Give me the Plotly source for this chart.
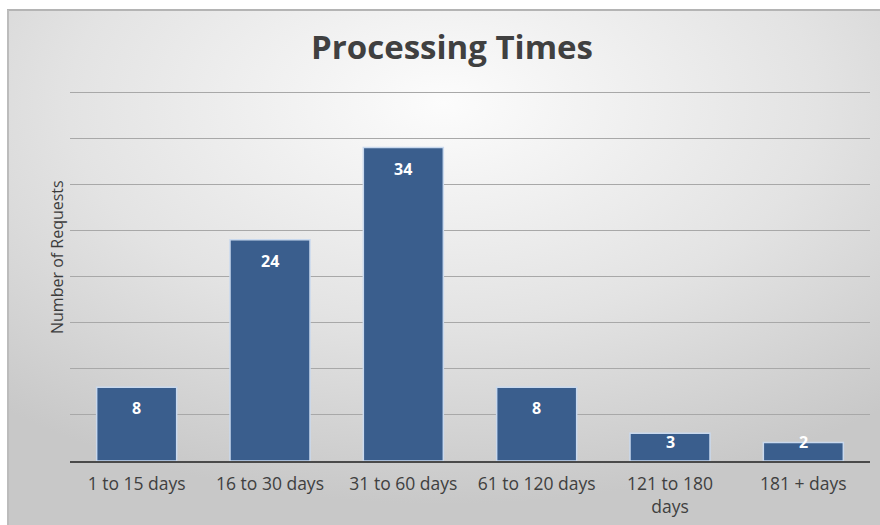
import plotly.graph_objects as go
import urllib.parse

categories = ["1 to 15 days", "16 to 30 days", "31 to 60 days", "61 to 120 days", "121 to 180<br>days", "181 + days"]
requests = [8, 24, 34, 8, 3, 2]

W, H = 880, 525
L, R, T, B = 70, 10, 83, 64
pw, ph = W - L - R, H - T - B
YMAX = 41
ppu = ph / YMAX

fig = go.Figure()
fig.add_trace(go.Bar(
    x=categories, y=requests,
    marker=dict(color="#3a5e8d", line=dict(color="#c9d9ee", width=1.5)),
    textposition="none",
))

for c, v in zip(categories, requests):
    h = v * ppu
    fig.add_annotation(x=c, y=v, xref="x", yref="y", text=f"<b>{v}</b>", showarrow=False,
                       yshift=-min(21, h - 18.5), yanchor="middle",
                       font=dict(family="Open Sans, sans-serif", size=16, color="white"))

svg = ('<svg xmlns="http://www.w3.org/2000/svg" width="873" height="515" preserveAspectRatio="none">'
       '<defs><radialGradient id="g" cx="50%" cy="18%" r="78%">'
       '<stop offset="0%" stop-color="#fcfcfc"/><stop offset="55%" stop-color="#e3e3e3"/>'
       '<stop offset="100%" stop-color="#c8c8c8"/></radialGradient></defs>'
       '<rect width="873" height="515" fill="url(#g)"/></svg>')
src = "data:image/svg+xml;charset=utf-8," + urllib.parse.quote(svg)

def px(xp):
    return (xp - L) / pw

def py(yp):
    return (H - B - yp) / ph

fig.add_layout_image(dict(
    source=src, xref="paper", yref="paper",
    x=px(7), y=py(10), sizex=873 / pw, sizey=515 / ph,
    sizing="stretch", xanchor="left", yanchor="top", layer="below",
))
fig.add_shape(type="line", xref="paper", yref="paper",
              x0=px(7), x1=px(880), y0=py(10), y1=py(10),
              line=dict(color="#b4b4b4", width=2), layer="above")
fig.add_shape(type="line", xref="paper", yref="paper",
              x0=px(8), x1=px(8), y0=py(10), y1=py(525),
              line=dict(color="#bcbcbc", width=2), layer="above")

fig.add_annotation(xref="paper", yref="paper", x=px(57), y=py(257), text="Number of Requests",
                   textangle=-90, showarrow=False, xanchor="center", yanchor="middle",
                   font=dict(family="Open Sans, sans-serif", size=16, color="#3c3c3c"))

fig.update_layout(
    width=W, height=H,
    margin=dict(l=L, r=R, t=T, b=B),
    paper_bgcolor="white", plot_bgcolor="rgba(0,0,0,0)",
    bargap=0.4,
    showlegend=False,
    title=dict(text="<b>Processing Times</b>", x=452 / W, xanchor="center", y=1 - 47 / H, yanchor="middle",
               font=dict(family="Open Sans, sans-serif", size=33, color="#404040")),
    xaxis=dict(showgrid=False, showline=True, linecolor="#4a4a4a", linewidth=2,
               ticks="", ticklabelstandoff=6, automargin=False,
               tickfont=dict(family="Open Sans, sans-serif", size=17.5, color="#404040")),
    yaxis=dict(range=[0, YMAX], tick0=0, dtick=5, showticklabels=False, gridcolor="#a8a8a8", gridwidth=1,
               zeroline=False, showline=False, automargin=False),
)
fig.write_html("out.html", post_script="document.body.style.margin='0';",
               config={"displayModeBar": False})
